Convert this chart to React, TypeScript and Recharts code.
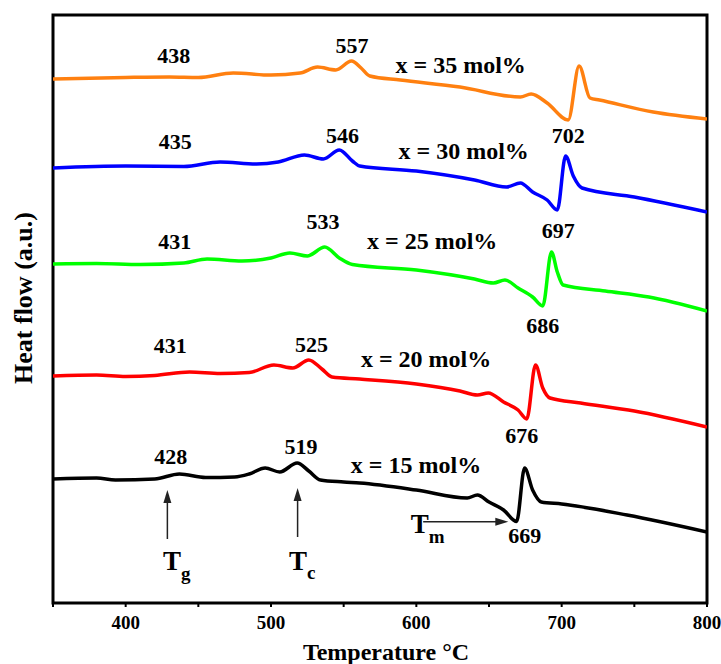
import { LineChart, Line, XAxis, YAxis, ReferenceArea, ReferenceDot, ReferenceLine } from 'recharts';

const FONT = '"Liberation Serif", "Times New Roman", serif';

// temperature (°C) and heat flow (a.u., offset per composition)
const tempX15 = [350, 380, 393, 420, 437, 455, 475, 485, 496, 506, 518, 526, 534, 550, 561, 600, 635, 642, 650, 660, 669, 674.5, 680, 686, 700, 745, 800];
const flowX15 = [12.4, 12.5, 12.3, 12.4, 12.9, 12.55, 12.6, 12.9, 13.5, 13.1, 14.0, 13.2, 12.3, 12.1, 12.0, 11.3, 10.5, 10.8, 10.1, 9.3, 8.15, 13.5, 11.3, 10.1, 9.9, 8.8, 7.1];

const tempX20 = [350, 380, 400, 420, 444, 465, 485, 502, 515, 526, 535, 542, 561, 600, 630, 642, 649.5, 660, 670, 676, 682, 687, 692, 713, 750, 800];
const flowX20 = [22.7, 22.8, 22.65, 22.75, 23.1, 22.95, 23.05, 23.8, 23.5, 24.3, 23.4, 22.6, 22.4, 21.9, 21.2, 20.8, 21.0, 20.1, 19.3, 18.4, 23.8, 21.5, 20.5, 20.0, 19.2, 17.6];

const tempX25 = [350, 380, 410, 440, 456, 480, 500, 513, 525, 537, 547, 556, 600, 640, 653, 661, 670, 680, 687, 693, 697, 701, 730, 760, 800];
const flowX25 = [33.9, 33.95, 33.85, 34.0, 34.4, 34.2, 34.5, 35.0, 34.7, 35.6, 34.5, 33.85, 33.3, 32.4, 32.0, 32.3, 31.5, 30.6, 29.7, 35.1, 33.1, 31.8, 31.2, 30.6, 29.2];

const tempX30 = [350, 400, 440, 465, 490, 505, 523, 536, 547, 556, 561, 600, 640, 662, 671.6, 680, 690, 697, 702.7, 708, 714, 750, 800];
const flowX30 = [43.5, 43.7, 43.65, 44.1, 43.9, 44.1, 44.8, 44.4, 45.3, 44.2, 43.7, 43.2, 42.3, 41.6, 42.0, 41.1, 40.3, 39.3, 44.7, 42.7, 41.5, 40.6, 39.1];

const tempX35 = [350, 400, 430, 450, 474, 500, 520, 532, 544.6, 555.4, 562, 568, 589, 630, 671.6, 679, 690, 704.5, 712, 719.5, 726, 763, 800];
const flowX35 = [52.4, 52.55, 52.6, 52.55, 53.0, 52.8, 53.0, 53.6, 53.3, 54.2, 53.5, 52.7, 52.3, 51.6, 50.6, 50.9, 50.0, 48.3, 53.7, 50.5, 50.3, 49.1, 48.4];

const xTicks = [350, 400, 450, 500, 550, 600, 650, 700, 750, 800];

// peak labels: text, temperature, heat flow
const noteTexts = ['438', '557', 'x = 35 mol%', '702', '435', '546', 'x = 30 mol%', '697', '431', '533', 'x = 25 mol%', '686', '431', '525', 'x = 20 mol%', '676', '428', '519', 'x = 15 mol%', '669'];
const noteTemps = [433, 555.7, 630.5, 704.6, 434.1, 549.2, 632.6, 697.7, 433.7, 535.7, 610.9, 687, 430.6, 527.8, 606.7, 672.5, 431, 520.6, 599.8, 674.6];
const noteFlows = [54.8, 55.8, 53.85, 46.8, 46.15, 46.8, 45.2, 37.3, 36.2, 38.15, 36.2, 27.8, 25.8, 25.9, 24.4, 16.8, 14.65, 15.65, 13.85, 6.8];

const zip = (t: number[], f: number[]) => t.map((v, i) => ({ t: v, hf: f[i] }));

const series = [
  { name: 'x15', color: '#000000', data: zip(tempX15, flowX15) },
  { name: 'x20', color: '#ff0000', data: zip(tempX20, flowX20) },
  { name: 'x25', color: '#00ff00', data: zip(tempX25, flowX25) },
  { name: 'x30', color: '#0000ff', data: zip(tempX30, flowX30) },
  { name: 'x35', color: '#ff8010', data: zip(tempX35, flowX35) },
];

const upHead = (p: any) => (
  <polygon points={`${p.cx},${p.cy} ${p.cx - 4},${p.cy + 13} ${p.cx + 4},${p.cy + 13}`} fill="#222" />
);
const rightHead = (p: any) => (
  <polygon points={`${p.cx},${p.cy} ${p.cx - 13},${p.cy - 4} ${p.cx - 13},${p.cy + 4}`} fill="#222" />
);
const subLabel = (main: string, sub: string, drop: number) => (p: any) => (
  <text x={p.cx} y={p.cy} fontFamily={FONT} fontWeight="bold" fill="#000">
    <tspan fontSize={27}>{main}</tspan>
    <tspan fontSize={19} dy={drop}>{sub}</tspan>
  </text>
);

export default function App() {
  return (
    <div style={{ position: 'relative', width: 721, height: 664, background: '#fff' }}>
      <style>{'body{margin:0}'}</style>
      <LineChart width={721} height={664} margin={{ top: 15, right: 14, left: 53, bottom: 31 }}>
        <XAxis
          dataKey="t"
          type="number"
          domain={[350, 800]}
          ticks={xTicks}
          interval={0}
          allowDataOverflow
          axisLine={false}
          height={30}
          tickSize={4}
          tickMargin={9}
          tickLine={{ stroke: '#000', strokeWidth: 2 }}
          tickFormatter={(v: number) => (v % 100 === 0 ? String(v) : '')}
          tick={{ fill: '#000', fontSize: 19, fontWeight: 'bold', fontFamily: FONT }}
          label={{ value: 'Temperature °C', position: 'bottom', offset: 10, dx: 6, fill: '#000', fontSize: 24, fontWeight: 'bold', fontFamily: FONT }}
        />
        <YAxis hide type="number" domain={[0, 58.8]} allowDataOverflow />
        {series.map((s) => (
          <Line
            key={s.name}
            data={s.data}
            dataKey="hf"
            type="monotone"
            stroke={s.color}
            strokeWidth={3.5}
            dot={false}
            isAnimationActive={false}
          />
        ))}
        <ReferenceArea x1={350} x2={800} y1={0} y2={58.8} fill="none" stroke="#000" strokeWidth={3} fillOpacity={0} />
        {noteTexts.map((txt, i) => (
          <ReferenceDot
            key={`n${i}`}
            x={noteTemps[i]}
            y={noteFlows[i]}
            r={1}
            shape={(p: any) => (
              <text
                x={p.cx}
                y={p.cy}
                textAnchor="middle"
                dominantBaseline="central"
                fontFamily={FONT}
                fontWeight="bold"
                fontSize={txt.startsWith('x') ? 24 : 22}
                fill="#000"
              >
                {txt}
              </text>
            )}
          />
        ))}
        <ReferenceLine segment={[{ x: 428.7, y: 6.4 }, { x: 428.7, y: 10.5 }]} stroke="#222" strokeWidth={1.5} />
        <ReferenceDot x={428.7} y={11.3} r={1} shape={upHead} />
        <ReferenceLine segment={[{ x: 518.3, y: 6.6 }, { x: 518.3, y: 10.7 }]} stroke="#222" strokeWidth={1.5} />
        <ReferenceDot x={518.3} y={11.5} r={1} shape={upHead} />
        <ReferenceLine segment={[{ x: 604.7, y: 8.13 }, { x: 658, y: 8.13 }]} stroke="#222" strokeWidth={1.5} />
        <ReferenceDot x={663.3} y={8.13} r={1} shape={rightHead} />
        <ReferenceDot x={425.7} y={3.3} r={1} shape={subLabel('T', 'g', 10)} />
        <ReferenceDot x={512.4} y={3.3} r={1} shape={subLabel('T', 'c', 9)} />
        <ReferenceDot x={596.1} y={7.0} r={1} shape={subLabel('T', 'm', 10)} />
      </LineChart>
      <div
        style={{
          position: 'absolute',
          left: 24,
          top: 298,
          transform: 'translate(-50%, -50%) rotate(-90deg)',
          whiteSpace: 'nowrap',
          fontFamily: FONT,
          fontWeight: 'bold',
          fontSize: 26,
          lineHeight: 1,
          color: '#000',
        }}
      >
        Heat flow (a.u.)
      </div>
    </div>
  );
}
